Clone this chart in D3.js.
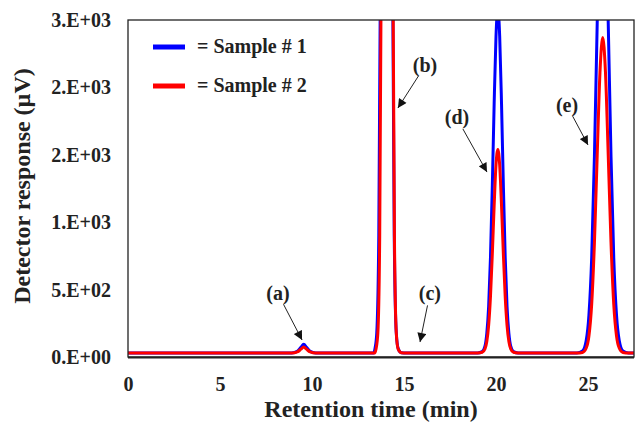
<!DOCTYPE html>
<html>
<head>
<meta charset="utf-8">
<style>
    body { margin: 0; background: #fff; }
    .tick text { font-family: 'Liberation Serif', 'Times New Roman', serif; font-weight: bold; font-size: 20px; fill: #222; }
    .title { font-family: 'Liberation Serif', 'Times New Roman', serif; font-weight: bold; font-size: 24px; fill: #222; }
    .lbl { font-family: 'Liberation Serif', 'Times New Roman', serif; font-weight: bold; font-size: 20px; fill: #222; }
    .trace { fill: none; stroke-width: 3px; stroke-linejoin: round; }
</style>
</head>
<body>
<svg id="chart" width="635" height="423"></svg>
<script src="https://cdnjs.cloudflare.com/ajax/libs/d3/7.8.5/d3.min.js"></script>
<script>
    // chromatogram points: [time (min), response (uV)]
    var sample1 = [
        [0, 30], [8.9, 30], [9.2, 42], [9.4, 72], [9.55, 95], [9.7, 72], [9.9, 42], [10.2, 30],
        [13.35, 30], [13.42, 60], [13.52, 180], [13.63, 900], [13.74, 3300], [13.89, 12000], [14.05, 18000],
        [14.21, 12000], [14.36, 3300], [14.47, 900], [14.58, 180], [14.69, 60], [14.85, 32], [15.15, 30],
        [19.0, 30], [19.25, 40], [19.4, 80], [19.5, 175], [19.6, 375], [19.7, 740], [19.8, 1270], [19.9, 1880], [20.0, 2380],
        [20.1, 2580], [20.2, 2380], [20.3, 1880], [20.4, 1270], [20.5, 740], [20.6, 375], [20.7, 175], [20.8, 80], [20.95, 40], [21.2, 30],
        [24.4, 30], [24.7, 44], [24.9, 120], [25.05, 310], [25.2, 735], [25.35, 1490], [25.5, 2475], [25.65, 3370],
        [25.8, 3730], [25.95, 3370], [26.1, 2475], [26.25, 1490], [26.4, 735], [26.55, 310], [26.7, 120], [26.9, 44], [27.2, 30], [27.5, 30]
    ];
    var sample2 = [
        [0, 30], [8.9, 30], [9.2, 38], [9.4, 58], [9.55, 75], [9.7, 58], [9.9, 38], [10.2, 30],
        [13.4, 30], [13.48, 60], [13.58, 180], [13.68, 900], [13.78, 3300], [13.93, 12000], [14.08, 18000],
        [14.23, 12000], [14.38, 3300], [14.48, 900], [14.58, 180], [14.68, 60], [14.85, 32], [15.1, 30],
        [19.0, 30], [19.25, 35], [19.4, 60], [19.5, 115], [19.6, 235], [19.7, 450], [19.8, 765], [19.9, 1125], [20.0, 1425],
        [20.1, 1540], [20.2, 1425], [20.3, 1125], [20.4, 765], [20.5, 450], [20.6, 235], [20.7, 115], [20.8, 60], [20.95, 35], [21.2, 30],
        [24.4, 30], [24.7, 34], [24.9, 65], [25.05, 155], [25.2, 390], [25.35, 850], [25.5, 1495], [25.65, 2110],
        [25.8, 2370], [25.95, 2110], [26.1, 1495], [26.25, 850], [26.4, 390], [26.55, 155], [26.7, 65], [26.9, 34], [27.2, 30], [27.5, 30]
    ];
    var series = [
        { name: '= Sample # 1', color: '#0000ff', data: sample1 },
        { name: '= Sample # 2', color: '#ff0000', data: sample2 }
    ];
    var xTicks = [0, 5, 10, 15, 20, 25];
    var yTicks = [0, 500, 1000, 1500, 2000, 2500];
    // annotation label position and arrow tip, in data units
    var notes = [
        { text: '(a)', at: [8.15, 470], tip: [9.46, 126] },
        { text: '(b)', at: [16.14, 2160], tip: [14.67, 1847] },
        { text: '(c)', at: [16.41, 470], tip: [15.87, 111] },
        { text: '(d)', at: [17.88, 1770], tip: [19.51, 1372] },
        { text: '(e)', at: [23.86, 1865], tip: [25.0, 1573] }
    ];

    var g_left = 128, g_right = 634, g_top = 20, g_bottom = 357;
    var svg = d3.select('#chart');

    var x = d3.scaleLinear().domain([0, 27.5]).range([g_left, g_right]);
    var y = d3.scaleLinear().domain([0, 2500]).range([g_bottom, g_top]);

    function sciFmt(v) {
        if (v === 0) return '0.E+00';
        var e = Math.floor(Math.log10(v));
        var m = Math.round(v / Math.pow(10, e));
        return m + '.E+' + (e < 10 ? '0' + e : e);
    }

    svg.append('defs').append('clipPath').attr('id', 'plot')
        .append('rect').attr('x', g_left).attr('y', g_top)
        .attr('width', g_right - g_left).attr('height', g_bottom - g_top);

    // axes
    var xAxis = d3.axisBottom(x).tickValues(xTicks).tickSize(0).tickPadding(20);
    svg.append('g').attr('transform', 'translate(0,' + g_bottom + ')')
        .call(xAxis).call(function(g) { g.select('.domain').remove(); });
    var yAxis = d3.axisLeft(y).tickValues(yTicks).tickFormat(sciFmt).tickSize(0).tickPadding(17);
    svg.append('g').attr('transform', 'translate(' + g_left + ',0)')
        .call(yAxis).call(function(g) { g.select('.domain').remove(); });

    // traces
    var line = d3.line().curve(d3.curveMonotoneX)
        .x(function(d) { return x(d[0]); })
        .y(function(d) { return y(d[1]); });
    var traces = svg.append('g').attr('clip-path', 'url(#plot)');
    series.forEach(function(s) {
        traces.append('path').datum(s.data)
            .attr('class', 'trace')
            .attr('stroke', s.color)
            .attr('d', line);
    });

    // frame
    svg.append('rect').attr('x', g_left).attr('y', g_top)
        .attr('width', g_right - g_left).attr('height', g_bottom - g_top)
        .attr('fill', 'none').attr('stroke', '#222').attr('stroke-width', 1.3);
    svg.append('line').attr('x1', g_left).attr('x2', g_right)
        .attr('y1', g_bottom + 0.5).attr('y2', g_bottom + 0.5)
        .attr('stroke', '#222').attr('stroke-width', 2);

    // legend
    series.forEach(function(s, i) {
        var ly = 47 + i * 39;
        svg.append('line').attr('x1', 153).attr('x2', 185).attr('y1', ly).attr('y2', ly)
            .attr('stroke', s.color).attr('stroke-width', 5);
        svg.append('text').attr('class', 'lbl').attr('x', 197).attr('y', ly + 6).text(s.name);
    });

    // annotations
    svg.append('defs').append('marker').attr('id', 'head')
        .attr('viewBox', '0 0 10 10').attr('refX', 10).attr('refY', 5)
        .attr('markerWidth', 10).attr('markerHeight', 9)
        .attr('markerUnits', 'userSpaceOnUse').attr('orient', 'auto')
        .append('path').attr('d', 'M0,0L10,5L0,10Z').attr('fill', '#111');
    notes.forEach(function(n) {
        var lx = x(n.at[0]), ly = y(n.at[1]);
        var tx = x(n.tip[0]), ty = y(n.tip[1]);
        svg.append('text').attr('class', 'lbl').attr('x', lx).attr('y', ly + 6)
            .attr('text-anchor', 'middle').text(n.text);
        var dx = tx - lx, dy = ty - ly, len = Math.sqrt(dx * dx + dy * dy);
        var sx = lx + dx / len * 12, sy = ly + dy / len * 12;
        if (sy < ly + 10) sy = ly + 10;
        svg.append('line').attr('x1', sx).attr('y1', sy).attr('x2', tx).attr('y2', ty)
            .attr('stroke', '#222').attr('stroke-width', 1)
            .attr('marker-end', 'url(#head)');
    });

    // axis titles
    svg.append('text').attr('class', 'title')
        .attr('x', (g_left + g_right) / 2 - 10).attr('y', 417)
        .attr('text-anchor', 'middle').text('Retention time (min)');
    svg.append('text').attr('class', 'title')
        .attr('transform', 'translate(30,' + 186 + ') rotate(-90)')
        .attr('text-anchor', 'middle').text('Detector response (µV)');
</script>
</body>
</html>
